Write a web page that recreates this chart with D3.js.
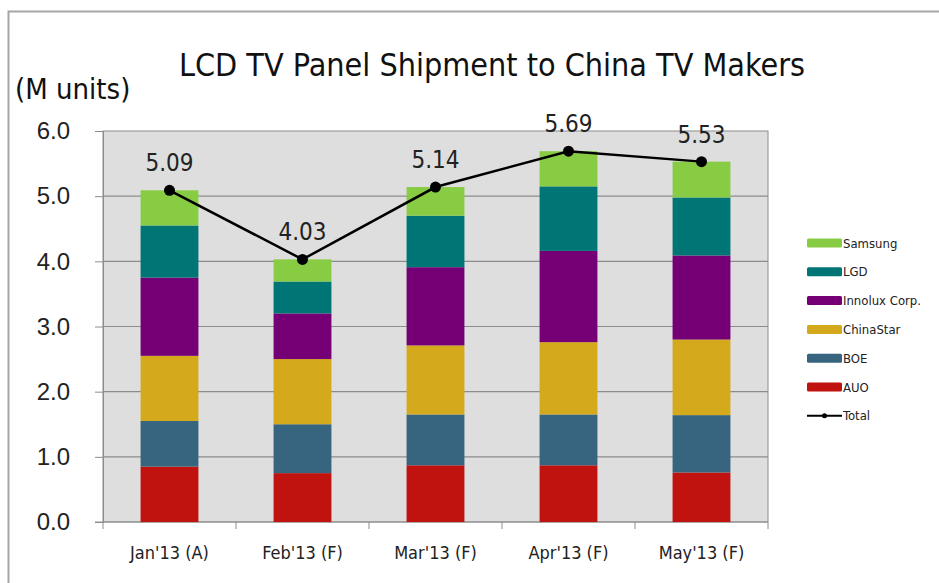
<!DOCTYPE html>
<html lang="en">
<head>
<meta charset="UTF-8">
<title>LCD TV Panel Shipment to China TV Makers</title>
<script src="https://d3js.org/d3.v7.min.js"></script>
<style>
    body { margin: 0; background: #fff; }
    svg { display: block; font-family: "DejaVu Sans Condensed", "DejaVu Sans", sans-serif; }
</style>
</head>
<body>
<svg id="chart" width="939" height="583"></svg>
<script>
const months = ["Jan'13 (A)", "Feb'13 (F)", "Mar'13 (F)", "Apr'13 (F)", "May'13 (F)"];
const makers = ["AUO", "BOE", "ChinaStar", "Innolux Corp.", "LGD", "Samsung"];
const auo       = [0.85, 0.75, 0.87, 0.87, 0.76];
const boe       = [0.70, 0.75, 0.78, 0.78, 0.88];
const chinaStar = [1.00, 1.00, 1.06, 1.11, 1.16];
const innolux   = [1.20, 0.70, 1.20, 1.40, 1.29];
const lgd       = [0.80, 0.49, 0.79, 0.99, 0.89];
const samsung   = [0.54, 0.34, 0.44, 0.54, 0.55];
const total     = [5.09, 4.03, 5.14, 5.69, 5.53];
const yTicks    = [0, 1, 2, 3, 4, 5, 6];

const colors = ["#c0130f", "#376580", "#d4aa1c", "#750075", "#007575", "#88cc44"];
const seriesVals = [auo, boe, chinaStar, innolux, lgd, samsung];

const rows = months.map((m, i) => {
    const r = {month: m};
    makers.forEach((k, j) => r[k] = seriesVals[j][i]);
    return r;
});

const svg = d3.select("#chart");
const plot = {left: 103, right: 768, top: 131, bottom: 522};

// frame
svg.append("path")
   .attr("d", "M8.5,600 V11.5 H939")
   .attr("fill", "none").attr("stroke", "#a6a6a6").attr("stroke-width", 2);

const x = d3.scaleBand().domain(months).range([plot.left, plot.right]).paddingInner(0.565).paddingOuter(0.2825);
const xOuter = d3.scaleBand().domain(months).range([plot.left, plot.right]);
const y = d3.scaleLinear().domain([0, 6]).range([plot.bottom, plot.top]);

svg.append("rect")
   .attr("x", plot.left).attr("y", plot.top)
   .attr("width", plot.right - plot.left).attr("height", plot.bottom - plot.top)
   .attr("fill", "#dedede").attr("stroke", "#8c8c8c");

// grid
svg.append("g").selectAll("line").data(yTicks.slice(1, -1)).join("line")
   .attr("x1", plot.left).attr("x2", plot.right)
   .attr("y1", d => y(d)).attr("y2", d => y(d))
   .attr("stroke", "#8c8c8c").attr("stroke-width", 1.2);

// y axis
const yAxis = svg.append("g").attr("transform", `translate(${plot.left},0)`)
   .call(d3.axisLeft(y).tickValues(yTicks).tickFormat(d3.format(".1f")).tickSize(8).tickPadding(25));
yAxis.select(".domain").attr("stroke", "#8c8c8c");
yAxis.selectAll(".tick line").attr("stroke", "#8c8c8c");
yAxis.selectAll("text").attr("font-size", 24).attr("fill", "#222").attr("font-family", "inherit");

// x axis
const xAxis = svg.append("g").attr("transform", `translate(0,${plot.bottom})`)
   .call(d3.axisBottom(xOuter).tickValues([]).tickSize(0));
xAxis.select(".domain").remove();
xAxis.selectAll("line.sep").data(d3.range(months.length + 1)).join("line")
   .attr("class", "sep")
   .attr("x1", i => plot.left + i * xOuter.step()).attr("x2", i => plot.left + i * xOuter.step())
   .attr("y1", 0).attr("y2", 7).attr("stroke", "#8c8c8c");
svg.append("line").attr("x1", plot.left - 8).attr("x2", plot.right).attr("y1", plot.bottom).attr("y2", plot.bottom)
   .attr("stroke", "#8c8c8c");
svg.append("g").selectAll("text").data(months).join("text")
   .attr("x", d => xOuter(d) + xOuter.bandwidth() / 2)
   .attr("y", 559)
   .attr("text-anchor", "middle").attr("font-size", 18).attr("fill", "#222")
   .text(d => d);

// bars
const stacked = d3.stack().keys(makers)(rows);
svg.append("g").selectAll("g").data(stacked).join("g")
   .attr("fill", (d, i) => colors[i])
   .selectAll("rect").data(d => d).join("rect")
   .attr("x", d => x(d.data.month))
   .attr("width", x.bandwidth())
   .attr("y", d => y(d[1]))
   .attr("height", d => y(d[0]) - y(d[1]));

// total line
const cx = (d, i) => xOuter(months[i]) + xOuter.bandwidth() / 2;
svg.append("path").datum(total)
   .attr("fill", "none").attr("stroke", "#000").attr("stroke-width", 2.5)
   .attr("d", d3.line().x(cx).y(d => y(d)));
svg.append("g").selectAll("circle").data(total).join("circle")
   .attr("cx", cx).attr("cy", d => y(d)).attr("r", 5.5).attr("fill", "#000");
svg.append("g").selectAll("text").data(total).join("text")
   .attr("x", cx).attr("y", d => y(d) - 19)
   .attr("text-anchor", "middle").attr("font-size", 24).attr("fill", "#222")
   .text(d => d.toFixed(2));

// titles
svg.append("text").attr("x", 492).attr("y", 76).attr("text-anchor", "middle")
   .attr("font-size", 32).attr("fill", "#111").text("LCD TV Panel Shipment to China TV Makers");
svg.append("text").attr("x", 15).attr("y", 99)
   .attr("font-size", 29).attr("fill", "#111").text("(M units)");

// legend
const legendItems = makers.slice().reverse().map((m, i) => ({name: m, color: colors[makers.length - 1 - i]}));
legendItems.push({name: "Total", line: true});
const legend = svg.append("g").attr("transform", "translate(807,243)");
const li = legend.selectAll("g").data(legendItems).join("g")
   .attr("transform", (d, i) => `translate(0,${i * 28.8})`);
li.filter(d => !d.line).append("rect")
   .attr("x", 0).attr("y", -4.5).attr("width", 35).attr("height", 9).attr("rx", 1.5)
   .attr("fill", d => d.color);
li.filter(d => d.line).append("line")
   .attr("x1", 0).attr("x2", 35).attr("y1", 0).attr("y2", 0).attr("stroke", "#000").attr("stroke-width", 2);
li.filter(d => d.line).append("circle").attr("cx", 17.5).attr("r", 2.5).attr("fill", "#000");
li.append("text").attr("x", 36).attr("y", 4.5).attr("font-size", 13).attr("fill", "#222").text(d => d.name);
</script>
</body>
</html>
